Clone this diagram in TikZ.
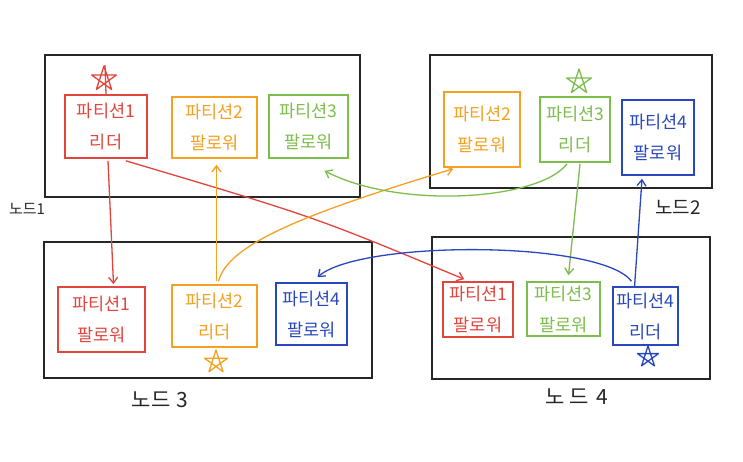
\documentclass[tikz,border=0pt]{standalone}
\usepackage{fontspec}
\newfontfamily\kr{Noto Sans CJK KR}
\usetikzlibrary{arrows.meta}
\definecolor{pred}{HTML}{E2453C}
\definecolor{pora}{HTML}{F4A020}
\definecolor{pgrn}{HTML}{7CBD4C}
\definecolor{pblu}{HTML}{2A48BE}
\definecolor{pblk}{HTML}{262626}
\begin{document}
\begin{tikzpicture}[x=1pt,y=-1pt,
  nodebox/.style={draw=pblk,line width=2.2pt,rectangle,inner sep=0pt},
  part/.style={draw=#1,text=#1,line width=1.6pt,rectangle,inner sep=0pt,align=center,
    font=\kr\fontsize{17.5}{31}\selectfont},
  link/.style={draw=#1,line width=1.3pt,-{Straight Barb[length=6pt,width=9pt]}},
  lbl/.style={text=pblk,inner sep=0pt,font=\kr\fontsize{#1}{#1}\selectfont},
  star mark/.pic={\draw[pic actions,line join=round] (0,-1)--(0.588,0.809)--(-0.951,-0.309)--(0.951,-0.309)--(-0.588,0.809)--cycle;}]
\useasboundingbox[fill=white] (0,0) rectangle (743,462);

% cluster nodes
\node[nodebox,minimum width=315pt,minimum height=142pt] (node1) at (202.5,126) {};
\node[nodebox,minimum width=282pt,minimum height=133pt] (node2) at (571,121.5) {};
\node[nodebox,minimum width=328pt,minimum height=136pt] (node3) at (208,310) {};
\node[nodebox,minimum width=278pt,minimum height=142pt] (node4) at (571,308) {};

\node[lbl=15] (l1) at (27,209) {노드1};
\node[lbl=19] (l2) at (678,207) {노드2};
\node[lbl=21] (l3) at (160,400) {노드\hspace{6pt}3};
\node[lbl=21] (l4) at (577,397) {노\hspace{4pt}드\hspace{8pt}4};

% partitions node 1
\node[part=pred,minimum width=82pt,minimum height=63pt] (n1p1) at (106,126.5) {파티션1\\리더};
\node[part=pora,minimum width=85pt,minimum height=61pt] (n1p2) at (214.5,127.5) {파티션2\\팔로워};
\node[part=pgrn,minimum width=79pt,minimum height=63pt] (n1p3) at (308.5,126.5) {파티션3\\팔로워};
% node 2
\node[part=pora,minimum width=76pt,minimum height=75pt] (n2p2) at (482,129.5) {파티션2\\팔로워};
\node[part=pgrn,minimum width=70pt,minimum height=65pt] (n2p3) at (575,129.5) {파티션3\\리더};
\node[part=pblu,minimum width=72pt,minimum height=75pt] (n2p4) at (658,137.5) {파티션4\\팔로워};
% node 3
\node[part=pred,minimum width=87pt,minimum height=65pt] (n3p1) at (101.5,319.5) {파티션1\\팔로워};
\node[part=pora,minimum width=85pt,minimum height=62pt] (n3p2) at (214.5,316) {파티션2\\리더};
\node[part=pblu,minimum width=71pt,minimum height=62pt] (n3p4) at (311.5,314) {파티션4\\팔로워};
% node 4
\node[part=pred,minimum width=70pt,minimum height=55pt] (n4p1) at (478,309.5) {파티션1\\팔로워};
\node[part=pgrn,minimum width=73pt,minimum height=54pt] (n4p3) at (563.5,309) {파티션3\\팔로워};
\node[part=pblu,minimum width=65pt,minimum height=58pt] (n4p4) at (645.5,316) {파티션4\\리더};

% leader stars
\pic[draw=pred,line width=1.3pt,scale=13] at (104,79) {star mark};
\draw[pred,line width=1.3pt] (105,65) -- (n1p1.north);
\pic[draw=pgrn,line width=1.3pt,scale=13] at (579,82) {star mark};
\pic[draw=pora,line width=1.3pt,scale=12] at (216,362) {star mark};
\pic[draw=pblu,line width=1.3pt,scale=11] at (648,357) {star mark};

% replication links
\draw[link=pred] ([xshift=2pt,yshift=-2pt]n1p1.south) -- ([xshift=12pt,yshift=2pt]n3p1.north);
\draw[link=pred] ([xshift=-22pt,yshift=-2pt]n1p1.south east) .. controls (315,217) .. ([xshift=22pt,yshift=2pt]n4p1.north west);
\draw[link=pora] ([xshift=2pt,yshift=3pt]n3p2.north) -- ([xshift=2pt,yshift=-6pt]n1p2.south);
\draw[link=pora] ([xshift=4pt,yshift=3pt]n3p2.north) .. controls (228,245) and (300,215) .. ([xshift=10pt,yshift=-1pt]n2p2.south west);
\draw[link=pgrn] ([xshift=-8pt,yshift=-1pt]n2p3.south) .. controls (540,200) and (400,210) .. ([xshift=16pt,yshift=-12pt]n1p3.south);
\draw[link=pgrn] ([xshift=5pt,yshift=-1pt]n2p3.south) -- ([xshift=5pt,yshift=6pt]n4p3.north);
\draw[link=pblu] ([xshift=-11pt,yshift=-1pt]n4p4.north) -- ([xshift=-16pt,yshift=-3pt]n2p4.south);
\draw[link=pblu] ([xshift=-14pt,yshift=5pt]n4p4.north) .. controls (600,240) and (360,240) .. ([xshift=6pt,yshift=5pt]n3p4.north);
\end{tikzpicture}
\end{document}
